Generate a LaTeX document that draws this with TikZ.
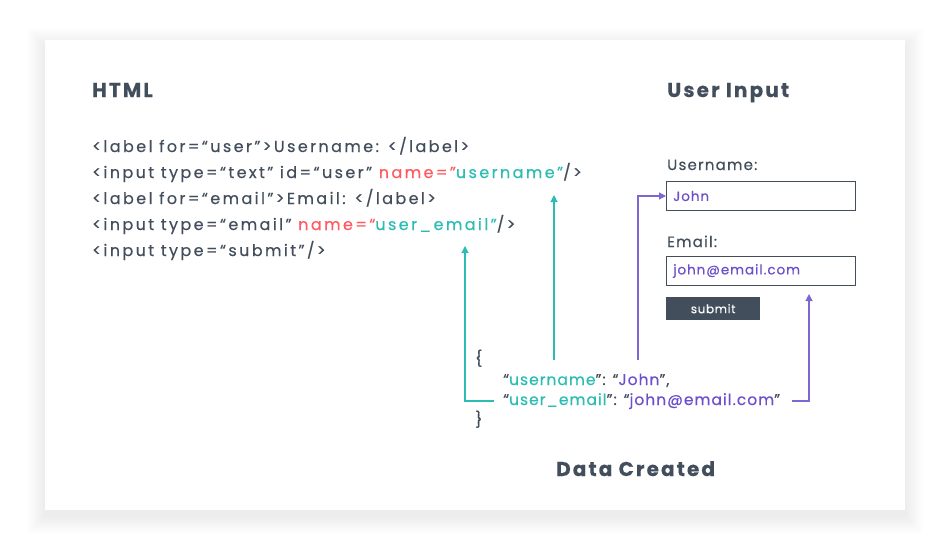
\documentclass[tikz,border=0pt]{standalone}
\usepackage{fontspec}
\setmainfont{Poppins}[FakeBold=0.35]
\usetikzlibrary{arrows.meta}
\definecolor{ink}{HTML}{434E5D}
\definecolor{tealc}{HTML}{2BBDB3}
\definecolor{redc}{HTML}{FF5A61}
\definecolor{purp}{HTML}{6C4FCB}
\definecolor{purpl}{HTML}{7E67D2}
\tikzset{
  head/.style={font=\fontsize{20}{20}\selectfont\bfseries\addfontfeature{LetterSpace=10.5}, text=ink, anchor=base west, inner sep=0},
  code/.style={font=\fontsize{16}{16}\selectfont\addfontfeature{LetterSpace=15}, text=ink, anchor=base west, inner sep=0},
  json/.style={font=\fontsize{15.5}{15.5}\selectfont\addfontfeature{LetterSpace=6.5}, text=ink, anchor=base west, inner sep=0},
  small/.style={font=\fontsize{15}{15}\selectfont\addfontfeature{LetterSpace=8}, text=ink, anchor=base west, inner sep=0},
  field/.style={draw=ink, line width=1pt, minimum width=189, minimum height=29, anchor=north west, inner sep=0},
  val/.style={font=\fontsize{13.5}{13.5}\selectfont\addfontfeature{LetterSpace=7}, text=purp, anchor=west, inner sep=0},
  tarrow/.style={draw=tealc, line width=1.2pt, -{Triangle[width=7pt,length=7pt]}},
  parrow/.style={draw=purpl, line width=1.2pt, -{Triangle[width=7pt,length=7pt]}},
}
\begin{document}
\begin{tikzpicture}[x=1pt,y=-1pt]
\useasboundingbox (0,0) rectangle (950,550);
\fill[white] (0,0) rectangle (950,550);
% shadow
\foreach \i in {1,...,18}{
  \fill[black, opacity=0.0026] (45-\i,40-\i+6) rectangle (905+\i,510+\i+6);
}
\fill[white] (45,40) rectangle (905,510);

% headings
\node[head] (hhtml) at (92,97) {HTML};
\node[head] (huser) at (667,97) {User Input};
\node[head] (hdata) at (556,476) {Data Created};

% code
\node[code] (c1) at (92,152) {<label for=“user”>Username: </label>};
\node[code] (c2) at (92,178) {<input type=“text” id=“user” {\color{redc}name=”}{\color{tealc}username”}/>};
\node[code] (c3) at (92,204) {<label for=“email”>Email: </label>};
\node[code] (c4) at (92,230) {<input type=“email” {\color{redc}name=“}{\color{tealc}user\_email”}/>};
\node[code] (c5) at (92,256) {<input type=“submit”/>};

% form
\node[small] (lu) at (667,170) {Username:};
\node[field] (fu) at (666,181) {};
\node[val] (vu) at ([xshift=7pt]fu.west) {John};
\node[small] (le) at (667,247) {Email:};
\node[field] (fe) at (666,256) {};
\node[val] (ve) at ([xshift=7pt]fe.west) {john@email.com};
\node[fill=ink, minimum width=94, minimum height=23, anchor=north west, inner sep=0,
      text=white, font=\fontsize{12}{12}\selectfont\addfontfeature{LetterSpace=5}] (sb) at (666,297) {submit};

% json
\node[json] (j1) at (475,364) {\{};
\node[json] (j2) at (503,385) {“{\color{tealc}username}”: “{\color{purp}John}”,};
\node[json] (j3) at (503,405) {“{\color{tealc}user\_email}”: “{\color{purp}john@email.com}”};
\node[json] (j4) at (475,425) {\}};

% connectors
\coordinate (a1s) at (554,360);
\coordinate (a1e) at (554,195);
\draw[tarrow] (a1s) -- (a1e);
\coordinate (a2s) at (494,401);
\coordinate (a2e) at (465,246);
\draw[tarrow] (a2s) -| (a2e);
\coordinate (a3s) at (638,360);
\draw[parrow] (a3s) |- (fu.west);
\coordinate (a4s) at (792,401);
\coordinate (a4e) at (809,294);
\draw[parrow] (a4s) -| (a4e);
\end{tikzpicture}
\end{document}
